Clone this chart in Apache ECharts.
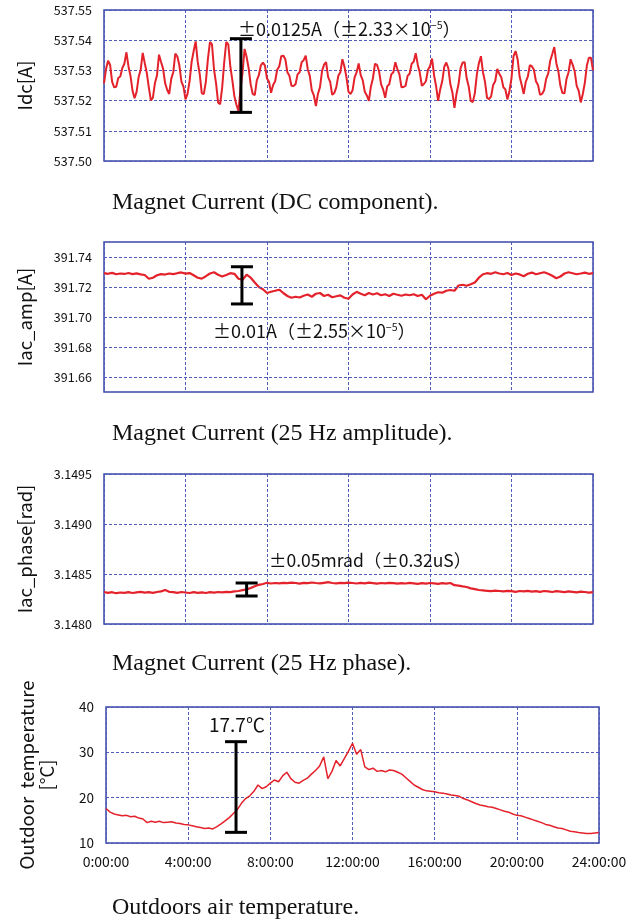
<!DOCTYPE html>
<html>
<head>
<meta charset="utf-8">
<script src="https://cdn.jsdelivr.net/npm/echarts@6/dist/echarts.min.js"></script>
<style>
html,body{margin:0;padding:0;background:#fff;}
#main{width:636px;height:922px;}
</style>
</head>
<body>
<div id="main"></div>
<script>
// sampled every 0.1 h (Idc) and every 0.2 h (others), 0:00 -> 24:00
var STEP_IDC = 0.1, STEP = 0.2;

var idc = [
 537.5257,537.5305,537.5332,537.5318,537.5262,537.5244,537.5246,537.5275,537.5280,537.5308,
 537.5322,537.5360,537.5314,537.5282,537.5233,537.5208,537.5229,537.5278,537.5302,537.5358,
 537.5324,537.5292,537.5244,537.5201,537.5210,537.5258,537.5283,537.5352,537.5328,537.5306,
 537.5258,537.5236,537.5222,537.5272,537.5294,537.5356,537.5346,537.5316,537.5263,537.5246,
 537.5204,537.5222,537.5264,537.5328,537.5364,537.5396,537.5328,537.5287,537.5224,537.5222,
 537.5263,537.5338,537.5394,537.5386,537.5303,537.5257,537.5194,537.5188,537.5243,537.5327,
 537.5394,537.5386,537.5313,537.5267,537.5214,537.5186,537.5166,537.5238,537.5293,537.5371,
 537.5344,537.5307,537.5253,537.5222,537.5218,537.5267,537.5284,537.5317,537.5326,537.5316,
 537.5273,537.5262,537.5226,537.5252,537.5264,537.5302,537.5313,537.5347,537.5349,537.5337,
 537.5294,537.5282,537.5249,537.5248,537.5254,537.5287,537.5294,537.5327,537.5334,537.5349,
 537.5304,537.5282,537.5234,537.5217,537.5182,537.5222,537.5244,537.5297,537.5319,537.5327,
 537.5278,537.5262,537.5219,537.5225,537.5244,537.5282,537.5294,537.5337,537.5313,537.5277,
 537.5229,537.5222,537.5234,537.5277,537.5294,537.5323,537.5284,537.5267,537.5229,537.5217,
 537.5199,537.5247,537.5274,537.5322,537.5318,537.5297,537.5254,537.5237,537.5209,537.5247,
 537.5254,537.5287,537.5294,537.5327,537.5304,537.5287,537.5244,537.5245,537.5249,537.5282,
 537.5289,537.5322,537.5329,537.5357,537.5319,537.5292,537.5249,537.5255,537.5264,537.5302,
 537.5314,537.5339,537.5284,537.5247,537.5199,537.5237,537.5264,537.5312,537.5326,537.5307,
 537.5254,537.5227,537.5176,537.5222,537.5254,537.5307,537.5326,537.5327,537.5274,537.5247,
 537.5199,537.5195,537.5224,537.5287,537.5324,537.5347,537.5294,537.5262,537.5209,537.5205,
 537.5214,537.5252,537.5264,537.5305,537.5289,537.5277,537.5244,537.5237,537.5204,537.5232,
 537.5274,537.5347,537.5364,537.5337,537.5279,537.5252,537.5222,537.5262,537.5279,537.5317,
 537.5314,537.5302,537.5264,537.5252,537.5219,537.5222,537.5234,537.5272,537.5289,537.5332,
 537.5354,537.5377,537.5324,537.5297,537.5249,537.5225,537.5224,537.5272,537.5294,537.5337,
 537.5319,537.5297,537.5249,537.5232,537.5194,537.5222,537.5259,537.5317,537.5342,537.5342,
 537.5300
];

var iacAmp = [
 391.7292,391.7288,391.7294,391.7285,391.7290,391.7287,391.7293,391.7286,391.7291,391.7284,
 391.7280,391.7255,391.7262,391.7278,391.7286,391.7283,391.7290,391.7286,391.7292,391.7297,
 391.7289,391.7293,391.7278,391.7262,391.7256,391.7272,391.7290,391.7298,391.7282,391.7270,
 391.7280,391.7292,391.7288,391.7255,391.7248,391.7282,391.7262,391.7230,391.7200,391.7185,
 391.7160,391.7168,391.7175,391.7182,391.7160,391.7140,391.7128,391.7135,391.7130,391.7142,
 391.7150,391.7135,391.7155,391.7160,391.7140,391.7148,391.7132,391.7138,391.7144,391.7128,
 391.7122,391.7150,391.7168,391.7155,391.7145,391.7160,391.7150,391.7158,391.7145,391.7152,
 391.7140,391.7155,391.7148,391.7142,391.7150,391.7145,391.7152,391.7140,391.7148,391.7118,
 391.7142,391.7155,391.7165,391.7162,391.7175,391.7180,391.7175,391.7210,391.7215,391.7208,
 391.7218,391.7230,391.7262,391.7285,391.7292,391.7288,391.7298,391.7290,391.7285,391.7293,
 391.7280,391.7290,391.7284,391.7272,391.7288,391.7296,391.7285,391.7292,391.7298,391.7288,
 391.7275,391.7258,391.7270,391.7290,391.7298,391.7292,391.7285,391.7290,391.7296,391.7288,
 391.7292
];

var iacPhase = [
 3.148320,3.148312,3.148318,3.148308,3.148315,3.148312,3.148318,3.148310,3.148316,3.148322,
 3.148314,3.148318,3.148312,3.148320,3.148326,3.148340,3.148322,3.148318,3.148312,3.148320,
 3.148315,3.148310,3.148318,3.148312,3.148316,3.148310,3.148318,3.148314,3.148320,3.148316,
 3.148322,3.148318,3.148326,3.148330,3.148338,3.148346,3.148360,3.148378,3.148392,3.148400,
 3.148412,3.148405,3.148410,3.148406,3.148412,3.148408,3.148414,3.148410,3.148404,3.148412,
 3.148408,3.148415,3.148410,3.148406,3.148412,3.148418,3.148410,3.148406,3.148412,3.148408,
 3.148414,3.148410,3.148405,3.148411,3.148407,3.148413,3.148409,3.148404,3.148410,3.148406,
 3.148412,3.148408,3.148403,3.148409,3.148405,3.148411,3.148407,3.148402,3.148408,3.148404,
 3.148410,3.148406,3.148402,3.148408,3.148404,3.148410,3.148388,3.148384,3.148376,3.148370,
 3.148356,3.148348,3.148340,3.148336,3.148332,3.148328,3.148334,3.148330,3.148326,3.148332,
 3.148328,3.148322,3.148330,3.148326,3.148332,3.148324,3.148328,3.148322,3.148330,3.148326,
 3.148320,3.148328,3.148324,3.148318,3.148326,3.148322,3.148316,3.148324,3.148320,3.148314,
 3.148318
];

var temp = [
 17.6,16.8,16.4,16.2,16.0,16.1,15.8,15.9,15.5,15.3,
 14.5,14.8,14.6,14.8,14.5,14.6,14.7,14.4,14.3,14.1,
 14.0,13.8,13.6,13.4,13.2,13.3,13.1,13.6,14.2,14.9,
 15.6,16.5,17.4,18.8,19.8,20.4,21.4,22.8,22.0,22.4,
 23.2,23.9,23.5,24.8,25.6,24.2,23.4,23.2,23.8,24.3,
 25.2,26.0,27.0,29.0,24.2,25.8,28.2,27.0,28.6,30.2,
 32.0,29.6,30.6,26.8,26.2,26.5,25.8,26.0,25.7,26.1,
 26.0,25.6,25.2,24.4,23.6,22.8,22.3,21.8,21.5,21.4,
 21.3,21.1,21.0,20.8,20.6,20.5,20.3,19.8,19.5,19.1,
 18.7,18.4,18.2,18.0,17.9,17.6,17.3,17.0,16.8,16.4,
 16.1,16.0,15.7,15.4,15.1,14.8,14.5,14.1,13.9,13.6,
 13.3,13.2,12.9,12.6,12.5,12.3,12.2,12.1,12.1,12.2,
 12.3
];

// error bars: [hour, low, high]
var errIdc = [6.72, 537.5161, 537.5405];
var errAmp = [6.77, 391.7087, 391.7335];
var errPhase = [7.0, 3.14828, 3.14841];
var errTemp = [6.33, 12.35, 32.35];

var ampGrid = [391.66, 391.68, 391.70, 391.72, 391.74];

var RED = '#e3222b', BLUE = '#3a48a8', GRIDC = '#4f5cb8';
var CJK = '"Noto Sans CJK JP", sans-serif';

function pairs(arr, step) {
    var out = [];
    for (var i = 0; i < arr.length; i++) out.push([+(i * step).toFixed(2), arr[i]]);
    return out;
}

function xAx(gi, showLabel) {
    return {
        type: 'value', gridIndex: gi, min: 0, max: 24, interval: 4,
        axisLine: {show: false}, axisTick: {show: false},
        axisLabel: {show: showLabel, margin: 12, fontFamily: CJK, fontSize: 14, color: '#111',
            formatter: function(v) { return v + ':00:00'; }},
        splitLine: {show: true, lineStyle: {color: GRIDC, type: [3, 2], width: 1}}
    };
}

function yAx(gi, min, max, interval, name, fmt, gap, split, fs) {
    return {
        type: 'value', gridIndex: gi, min: min, max: max, interval: interval,
        name: name, nameLocation: 'middle', nameGap: gap,
        nameTextStyle: {fontFamily: CJK, fontSize: 18.5, color: '#111', lineHeight: 20},
        axisLine: {show: false}, axisTick: {show: false},
        axisLabel: {margin: 12, fontFamily: CJK, fontSize: fs, color: '#111', formatter: fmt},
        splitLine: {show: split, lineStyle: {color: GRIDC, type: [3, 2], width: 1}}
    };
}

function errorBarItem(params, api) {
    var x = api.value(0);
    var pLo = api.coord([x, api.value(1)]);
    var pHi = api.coord([x, api.value(2)]);
    var half = 11;
    var st = {stroke: '#000', lineWidth: 3};
    return {type: 'group', children: [
        {type: 'line', shape: {x1: pLo[0], y1: pLo[1], x2: pHi[0], y2: pHi[1]}, style: st},
        {type: 'line', shape: {x1: pHi[0] - half, y1: pHi[1], x2: pHi[0] + half, y2: pHi[1]}, style: st},
        {type: 'line', shape: {x1: pLo[0] - half, y1: pLo[1], x2: pLo[0] + half, y2: pLo[1]}, style: st}
    ]};
}

function lineSeries(gi, data, w) {
    return {type: 'line', xAxisIndex: gi, yAxisIndex: gi, data: data, showSymbol: false,
        lineStyle: {color: RED, width: w}, z: 3, animation: false};
}
function errSeries(gi, e) {
    return {type: 'custom', xAxisIndex: gi, yAxisIndex: gi, renderItem: errorBarItem,
        data: [e], encode: {x: 0, y: [1, 2]}, z: 5, animation: false};
}

function caption(text, y) {
    return {type: 'text', x: 112, y: y, z: 10,
        style: {text: text, font: '24px "Liberation Serif", serif', fill: '#111', verticalAlign: 'middle'}};
}
function note(text, x, y, fs) {
    return {type: 'text', x: x, y: y, z: 10,
        style: {text: text, fontFamily: CJK, fontSize: fs, fill: '#111', verticalAlign: 'middle',
            rich: {sup: {fontFamily: CJK, fontSize: 10.5, fill: '#111', verticalAlign: 'top', padding: [0, 0, 8, 0]}}}};
}

var chart = echarts.init(document.getElementById('main'));
var gridBox = {show: true, borderColor: BLUE, borderWidth: 1.5, backgroundColor: '#fff', containLabel: false};

var option = {
    backgroundColor: '#fff',
    animation: false,
    grid: [
        Object.assign({left: 104, top: 10, width: 489, height: 151}, gridBox),
        Object.assign({left: 104, top: 242, width: 489, height: 150}, gridBox),
        Object.assign({left: 104, top: 474, width: 489, height: 150}, gridBox),
        Object.assign({left: 106, top: 707, width: 493, height: 136}, gridBox)
    ],
    xAxis: [xAx(0, false), xAx(1, false), xAx(2, false), xAx(3, true)],
    yAxis: [
        yAx(0, 537.50, 537.55, 0.01, 'Idc[A]', function(v) { return v.toFixed(2); }, 69, true, 12.5),
        yAx(1, 391.65, 391.75, 0.01, 'Iac_amp[A]', function(v) {
            return Math.round(v * 100) % 2 === 0 ? v.toFixed(2) : '';
        }, 69, false, 12.5),
        yAx(2, 3.1480, 3.1495, 0.0005, 'Iac_phase[rad]', function(v) { return v.toFixed(4); }, 69, true, 12.5),
        yAx(3, 10, 40, 10, 'Outdoor  temperature\n[°C]', function(v) { return v; }, 49, true, 13.5)
    ],
    series: [
        {type: 'line', xAxisIndex: 1, yAxisIndex: 1, data: [], z: 1,
            markLine: {silent: true, symbol: 'none', label: {show: false}, animation: false,
                lineStyle: {color: GRIDC, type: [3, 2], width: 1},
                data: ampGrid.map(function(v) { return {yAxis: v}; })}},
        lineSeries(0, pairs(idc, STEP_IDC), 2),
        lineSeries(1, pairs(iacAmp, STEP), 2.2),
        lineSeries(2, pairs(iacPhase, STEP), 2.2),
        lineSeries(3, pairs(temp, STEP), 1.5),
        errSeries(0, errIdc),
        errSeries(1, errAmp),
        errSeries(2, errPhase),
        errSeries(3, errTemp)
    ],
    graphic: [
        note('±0.0125A（±2.33×10{sup|−5}）', 238, 29, 18),
        note('±0.01A（±2.55×10{sup|−5}）', 213, 331, 18),
        note('±0.05mrad（±0.32uS）', 269, 560, 17.5),
        note('17.7℃', 209, 725, 19),
        caption('Magnet Current (DC component).', 203),
        caption('Magnet Current (25 Hz amplitude).', 434),
        caption('Magnet Current (25 Hz phase).', 664),
        caption('Outdoors air temperature.', 908)
    ]
};
chart.setOption(option);
</script>
</body>
</html>
